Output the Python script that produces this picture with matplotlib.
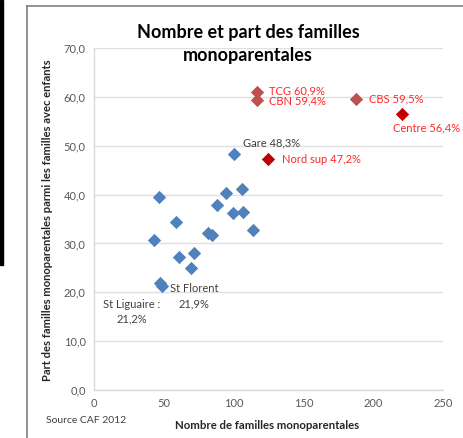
import matplotlib.pyplot as plt
from matplotlib.patches import Rectangle
from matplotlib.lines import Line2D

plt.rcParams['font.family'] = ['Lato', 'DejaVu Sans']

# quartiers "ordinaires"
nb_blue = [100.5, 46.6, 94.3, 106, 88.3, 99.6, 106.7, 58.5, 43.2, 81.9, 84.7,
           114.1, 60.7, 71.8, 69.5, 47.5, 48.9]
part_blue = [48.3, 39.6, 40.3, 41.2, 37.8, 36.2, 36.5, 34.3, 30.8, 32.2, 31.7,
             32.7, 27.2, 28.0, 25.0, 21.9, 21.2]

# quartiers en rouge clair
nb_red = [116.5, 116.5, 188]
part_red = [60.9, 59.4, 59.5]

# quartiers en rouge foncé
nb_dark = [221, 125]
part_dark = [56.4, 47.2]

fig = plt.figure(figsize=(4.64, 4.38), dpi=100)
ax = fig.add_axes([0.2026, 0.1096, 0.752, 0.7808])

ax.scatter(nb_blue, part_blue, marker='D', s=46, color='#4F81BD', zorder=3, linewidths=0)
ax.scatter(nb_red, part_red, marker='D', s=46, color='#C0504D', zorder=3, linewidths=0)
ax.scatter(nb_dark, part_dark, marker='D', s=46, color='#C00000', zorder=3, linewidths=0)

ax.set_xlim(0, 250)
ax.set_ylim(0, 70)
ax.set_xticks([0, 50, 100, 150, 200, 250])
ax.set_yticks(range(0, 71, 10))
ax.set_yticklabels(['%d,0' % v for v in range(0, 71, 10)])
ax.tick_params(length=0, labelsize=8, colors='#595959', pad=6)
ax.yaxis.grid(True, color='#E0E0E0', linewidth=1)
ax.set_axisbelow(True)
for s in ['top', 'right']:
    ax.spines[s].set_visible(False)
for s in ['left', 'bottom']:
    ax.spines[s].set_color('#D9D9D9')
    ax.spines[s].set_linewidth(1)

red = '#FF2828'
lab = dict(fontsize=8, va='center')
ax.annotate('TCG 60,9%', (116.5, 60.9), xytext=(9, 1), textcoords='offset points', color=red, **lab)
ax.annotate('CBN 59,4%', (116.5, 59.4), xytext=(9, -1), textcoords='offset points', color=red, **lab)
ax.annotate('CBS 59,5%', (188, 59.5), xytext=(9, 0), textcoords='offset points', color=red, **lab)
ax.annotate('Centre 56,4%', (221, 56.4), xytext=(-7, -10), textcoords='offset points', color=red, **lab)
ax.annotate('Nord sup 47,2%', (125, 47.2), xytext=(10, 0), textcoords='offset points', color=red, **lab)
ax.annotate('Gare 48,3%', (100.5, 48.3), xytext=(6, 8), textcoords='offset points', color='#404040', **lab)
ax.annotate('St Florent\n21,9%', (47.5, 21.9), xytext=(24.5, -9.5), textcoords='offset points',
            color='#404040', ha='center', linespacing=1.5, **lab)
ax.annotate('St Liguaire :\n21,2%', (48.9, 21.2), xytext=(-22, -18), textcoords='offset points',
            color='#404040', ha='center', linespacing=1.4, **lab)

fig.text(0.535, 0.9, 'Nombre et part des familles\nmonoparentales', ha='center', va='center',
         fontsize=13, fontweight='bold', color='#000000', linespacing=1.45)
fig.text(0.576, 0.029, 'Nombre de familles monoparentales', ha='center', va='center',
         fontsize=8.2, fontweight='bold', color='#262626')
fig.text(0.103, 0.497, 'Part des familles monoparentales parmi les familles avec enfants',
         ha='center', va='center', rotation=90, fontsize=8.1, fontweight='bold', color='#262626')
fig.text(0.185, 0.039, 'Source CAF 2012', ha='center', va='center', fontsize=7.5, color='#404040')

# cadre du graphique et bord noir
fig.add_artist(Line2D([27 / 464, 27 / 464], [0, 1 - 6 / 438], transform=fig.transFigure,
                      color='#7F7F7F', linewidth=1.2))
fig.add_artist(Line2D([27 / 464, 1], [1 - 6 / 438, 1 - 6 / 438], transform=fig.transFigure,
                      color='#7F7F7F', linewidth=1.2))
fig.add_artist(Rectangle((0, 1 - 265 / 438), 3 / 464, 265 / 438, transform=fig.transFigure,
                         color='black'))

fig.savefig('out.png', dpi=100)
